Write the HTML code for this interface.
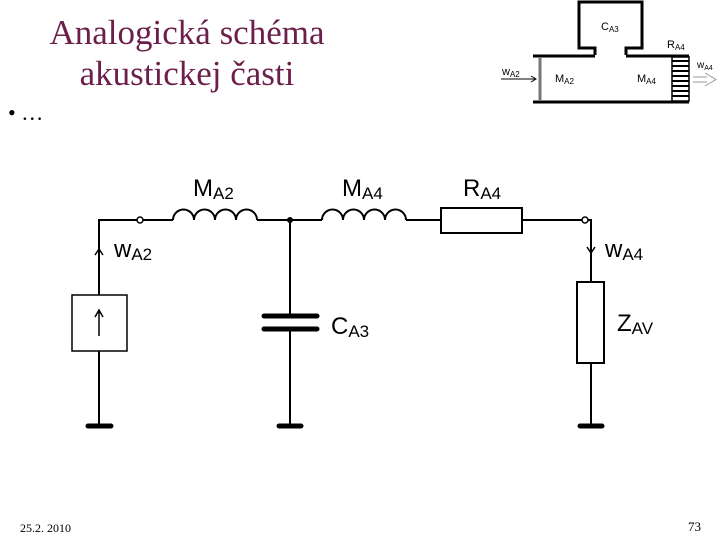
<html><body style="margin:0;width:720px;height:540px;background:#fff;position:relative;overflow:hidden;font-family:'Liberation Sans',sans-serif">
<div style="position:absolute;left:22px;top:12px;width:330px;text-align:center;font:35px 'Liberation Serif',serif;color:#6b1f4a;line-height:41px">Analogická schéma<br>akustickej časti</div>
<div style="position:absolute;left:8px;top:100px;font:22px 'Liberation Serif',serif">• …</div>
<div style="position:absolute;left:20px;top:521px;font:12px 'Liberation Serif',serif">25.2. 2010</div>
<div style="position:absolute;left:688px;top:519px;font:13px 'Liberation Serif',serif">73</div>
<svg width="720" height="540" style="position:absolute;left:0;top:0" font-family="Liberation Sans, sans-serif">
<g fill="none" stroke="#000" stroke-width="3">
<path d="M595 55V48H579V2H642V48H626V55"/>
<path d="M533 56H595M626 56H689M533 102H689"/>
</g>
<line x1="540" y1="57" x2="540" y2="101" stroke="#777" stroke-width="3"/>
<rect x="672" y="57" width="17" height="44" fill="#fff" stroke="#000" stroke-width="1.5"/>
<g stroke="#000" stroke-width="2">
<line x1="672" y1="61" x2="689" y2="61"/><line x1="672" y1="66" x2="689" y2="66"/><line x1="672" y1="71" x2="689" y2="71"/><line x1="672" y1="76" x2="689" y2="76"/><line x1="672" y1="81" x2="689" y2="81"/><line x1="672" y1="86" x2="689" y2="86"/><line x1="672" y1="91" x2="689" y2="91"/><line x1="672" y1="96" x2="689" y2="96"/></g>
<path d="M501 79H536M531 76L536 79L531 82" fill="none" stroke="#000"/>
<path d="M693 77H707M693 82H707M705 73L716 79.5L705 86" fill="none" stroke="#999"/>
<g font-size="11"><text x="601" y="30">C<tspan font-size="8" dy="2">A3</tspan></text>
<text x="667" y="48">R<tspan font-size="8" dy="2">A4</tspan></text>
<text x="502" y="75">w<tspan font-size="8" dy="2">A2</tspan></text>
<text x="697" y="68" font-size="10">w<tspan font-size="7" dy="2">A4</tspan></text>
<text x="555" y="82">M<tspan font-size="8" dy="2">A2</tspan></text>
<text x="637" y="82">M<tspan font-size="8" dy="2">A4</tspan></text></g>

<g fill="none" stroke="#000" stroke-width="2">
<path d="M99 295V220H137M143 220H173M257 220H322M406 220H441M522 220H582M588 220H591V282M591 363V426M99 351V426M290 220V316M290 329V426"/>
<path d="M173 220a10.5 10.5 0 0 1 21 0a10.5 10.5 0 0 1 21 0a10.5 10.5 0 0 1 21 0a10.5 10.5 0 0 1 21 0"/>
<path d="M322 220a10.5 10.5 0 0 1 21 0a10.5 10.5 0 0 1 21 0a10.5 10.5 0 0 1 21 0a10.5 10.5 0 0 1 21 0"/>
<rect x="441" y="208" width="81" height="25"/>
<rect x="577" y="282" width="27" height="81"/>
<rect x="72" y="295" width="55" height="56" stroke-width="1.5"/>
<path d="M99 336V310M95 317L99 310L103 317M95 255L99 249L103 255M587 247L591 253L595 247" stroke-width="1.5"/>
</g>
<circle cx="140" cy="220" r="3" fill="#fff" stroke="#000" stroke-width="1.5"/>
<circle cx="585" cy="220" r="3" fill="#fff" stroke="#000" stroke-width="1.5"/>
<circle cx="290" cy="220" r="3" fill="#000"/>
<g stroke="#000" stroke-width="5" stroke-linecap="round">
<line x1="264" y1="316" x2="317" y2="316"/><line x1="264" y1="329" x2="317" y2="329"/>
<line x1="88" y1="426" x2="111" y2="426"/><line x1="279" y1="426" x2="301" y2="426"/><line x1="580" y1="426" x2="602" y2="426"/></g>
<g font-size="24">
<text x="193" y="196">M<tspan font-size="17" dy="3">A2</tspan></text>
<text x="342" y="196">M<tspan font-size="17" dy="3">A4</tspan></text>
<text x="463" y="196">R<tspan font-size="17" dy="3">A4</tspan></text>
<text x="114" y="257">w<tspan font-size="17" dy="3">A2</tspan></text>
<text x="605" y="257">w<tspan font-size="17" dy="3">A4</tspan></text>
<text x="331" y="334">C<tspan font-size="17" dy="3">A3</tspan></text>
<text x="617" y="331">Z<tspan font-size="17" dy="3">AV</tspan></text></g>
</svg>
</body></html>
